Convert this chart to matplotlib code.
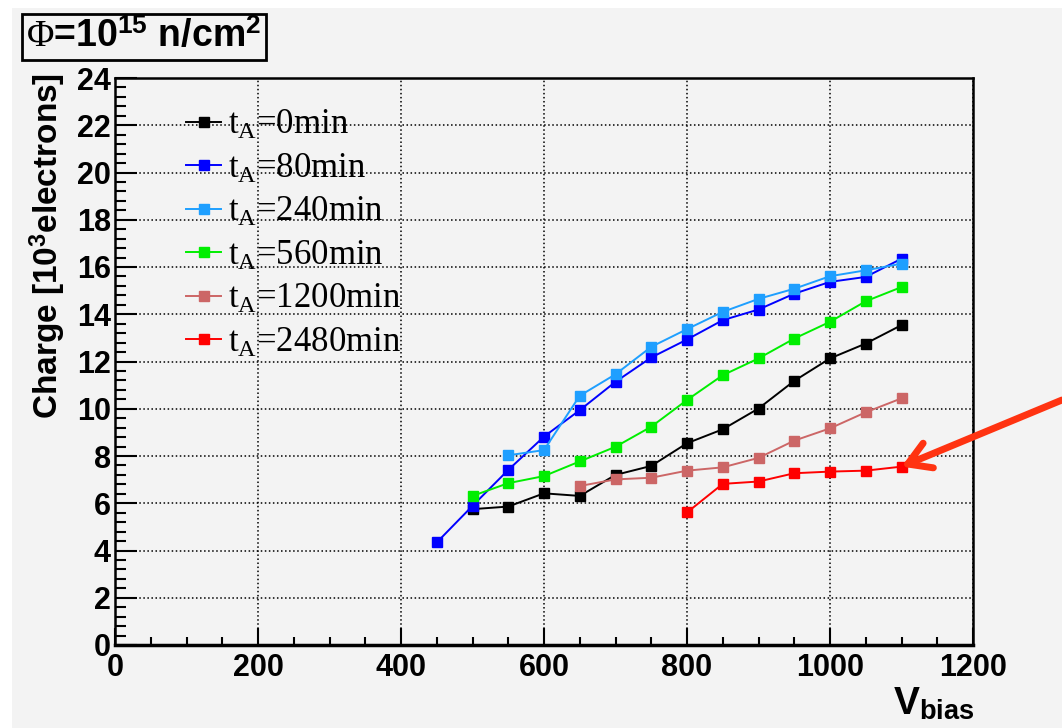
import matplotlib
matplotlib.use("Agg")
import matplotlib.pyplot as plt
from matplotlib.ticker import MultipleLocator
from matplotlib.patches import Rectangle

plt.rcParams['font.family'] = ['Liberation Sans', 'DejaVu Sans']
plt.rcParams['mathtext.fontset'] = 'custom'
plt.rcParams['mathtext.rm'] = 'Liberation Serif'
plt.rcParams['mathtext.it'] = 'Liberation Serif:italic'

# data (V_bias in V, charge in 10^3 electrons)
v_0 = [500, 550, 600, 650, 700, 750, 800, 850, 900, 950, 1000, 1050, 1100]
q_0 = [5.75, 5.86, 6.42, 6.31, 7.2, 7.58, 8.54, 9.13, 10.01, 11.18, 12.13, 12.76, 13.54]

v_80 = [450, 500, 550, 600, 650, 700, 750, 800, 850, 900, 950, 1000, 1050, 1100]
q_80 = [4.34, 5.89, 7.41, 8.82, 9.94, 11.14, 12.17, 12.93, 13.75, 14.2, 14.87, 15.37, 15.58, 16.35]

v_240 = [550, 600, 650, 700, 750, 800, 850, 900, 950, 1000, 1050, 1100]
q_240 = [8.03, 8.25, 10.55, 11.46, 12.62, 13.37, 14.1, 14.65, 15.08, 15.61, 15.86, 16.14]

v_560 = [500, 550, 600, 650, 700, 750, 800, 850, 900, 950, 1000, 1050, 1100]
q_560 = [6.31, 6.85, 7.15, 7.77, 8.39, 9.24, 10.37, 11.42, 12.13, 12.97, 13.68, 14.55, 15.15]

v_1200 = [650, 700, 750, 800, 850, 900, 950, 1000, 1050, 1100]
q_1200 = [6.73, 7.01, 7.08, 7.38, 7.52, 7.92, 8.65, 9.17, 9.85, 10.44]

v_2480 = [800, 850, 900, 950, 1000, 1050, 1100]
q_2480 = [5.61, 6.82, 6.92, 7.27, 7.34, 7.38, 7.55]

labels = ['0min', '80min', '240min', '560min', '1200min', '2480min']
colors = ['black', '#0000ff', '#1e9fff', '#00ee00', '#cc6666', '#ff0000']
series = [(v_0, q_0), (v_80, q_80), (v_240, q_240), (v_560, q_560),
          (v_1200, q_1200), (v_2480, q_2480)]

bg = '#f3f3f3'
fig = plt.figure(figsize=(10.62, 7.28), dpi=100)
fig.patch.set_facecolor('white')
fig.patches.append(Rectangle((12/1062, 0), 1, 1 - 8/728, transform=fig.transFigure,
                             facecolor=bg, edgecolor='none', zorder=-10))

ax = fig.add_axes([115/1062, 83/728, 858/1062, 567/728])
ax.set_facecolor(bg)

for (v, q), lab, c in zip(series, labels, colors):
    ax.plot(v, q, '-s', color=c, lw=1.4, ms=7, mec=c,
            label=r'$\mathregular{t_{A}}$=' + lab)

ax.set_xlim(0, 1200)
ax.set_ylim(0, 24)
ax.xaxis.set_major_locator(MultipleLocator(200))
ax.xaxis.set_minor_locator(MultipleLocator(50))
ax.yaxis.set_major_locator(MultipleLocator(2))
ax.yaxis.set_minor_locator(MultipleLocator(0.4))
ax.grid(True, which='major', color='black', ls=':', lw=1.1)
ax.set_axisbelow(True)

ax.tick_params(axis='both', which='both', direction='in', width=1.5)
ax.tick_params(axis='y', which='major', length=16, labelsize=22, pad=3)
ax.tick_params(axis='y', which='minor', length=8)
ax.tick_params(axis='x', which='major', length=12, labelsize=22, pad=6)
ax.tick_params(axis='x', which='minor', length=6)
for lab in ax.get_xticklabels() + ax.get_yticklabels():
    lab.set_fontweight('bold')
for s in ax.spines.values():
    s.set_linewidth(1.8)
ax.spines['bottom'].set_linewidth(2.5)

leg = ax.legend(loc='upper left', bbox_to_anchor=(0.067, 0.97), frameon=False,
                prop={'family': 'Liberation Serif', 'size': 25},
                handlelength=1.0, handletextpad=0.2, labelspacing=0.3,
                borderaxespad=0)

fig.text(48/1062, 1 - 73/728, r'Charge [10$^{\mathregular{3}}$electrons]',
         rotation=90, ha='center', va='top', fontsize=24, fontweight='bold')
fig.text(975/1062, 1 - 722/728, r'V$_{\mathregular{bias}}$',
         ha='right', va='bottom', fontsize=28, fontweight='bold')

fig.text(26/1062, 1 - 37/728,
         r'$\Phi$=10$^{\mathregular{15}}$ n/cm$^{\mathregular{2}}$',
         ha='left', va='center', fontsize=27, fontweight='bold',
         bbox=dict(boxstyle='square,pad=0.12', facecolor=bg, edgecolor='black', lw=2))

ax.annotate('', xy=(1100, 7.55), xycoords='data',
            xytext=(1.0, 1 - 400/728), textcoords='figure fraction',
            arrowprops=dict(arrowstyle='->,head_length=0.5,head_width=0.3',
                            color='#ff3311', lw=5,
                            mutation_scale=32, shrinkA=0, shrinkB=0),
            annotation_clip=False)

fig.savefig('out.png', dpi=100, facecolor=fig.get_facecolor())
